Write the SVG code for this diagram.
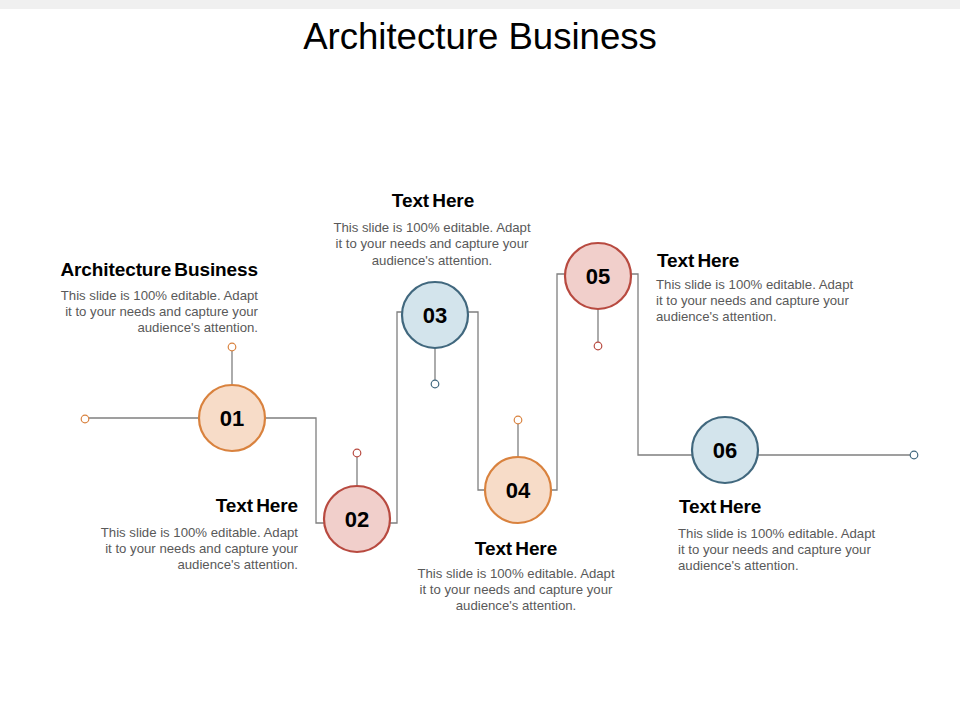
<svg xmlns="http://www.w3.org/2000/svg" width="960" height="720" viewBox="0 0 960 720">
<style>
.title{font-family:"Liberation Sans",Arial,sans-serif;font-size:36.6px;fill:#000}
.hd{font-family:"Liberation Sans",Arial,sans-serif;font-size:19px;font-weight:bold;fill:#000;letter-spacing:-0.1px;word-spacing:-2px}
.bd{font-family:"Liberation Sans",Arial,sans-serif;font-size:13.2px;fill:#595959}
.num{font-family:"Liberation Sans",Arial,sans-serif;font-size:22px;font-weight:bold;fill:#000;text-anchor:middle}
.ln{fill:none;stroke:#7f7f7f;stroke-width:1.3}
.o{fill:#f7dcc8;stroke:#d9823e;stroke-width:2.2}
.r{fill:#f1cfcb;stroke:#b84a40;stroke-width:2.2}
.b{fill:#d3e4ec;stroke:#41687e;stroke-width:2.2}
.so{fill:#fff;stroke:#d9823e;stroke-width:1.2}
.sr{fill:#fff;stroke:#b84a40;stroke-width:1.2}
.sb{fill:#fff;stroke:#41687e;stroke-width:1.2}
</style>
<rect x="0" y="0" width="960" height="9" fill="#f0f0f0"/>
<text class="title" x="480" y="49" text-anchor="middle">Architecture Business</text>
<g id="connectors">
<path class="ln" d="M89,418 H199"/>
<path class="ln" d="M266,418 H316 V523 H324"/>
<path class="ln" d="M390,523 H397 V312 H402"/>
<path class="ln" d="M468,312 H478 V490 H485"/>
<path class="ln" d="M551,490 H557 V274 H565"/>
<path class="ln" d="M631,274 H638 V455 H692"/>
<path class="ln" d="M758,455 H910"/>
<path class="ln" d="M232,351 V385"/>
<path class="ln" d="M357,457 V486"/>
<path class="ln" d="M435,348 V380"/>
<path class="ln" d="M518,424 V457"/>
<path class="ln" d="M598,309 V342"/>
<circle class="so" cx="85" cy="419" r="3.8"/>
<circle class="sb" cx="914" cy="455" r="3.8"/>
</g>
<g id="node01">
<circle class="so" cx="232" cy="347" r="3.8"/>
<circle class="o" cx="232" cy="418" r="33"/>
<text class="num" x="232" y="426">01</text>
</g>
<g id="node02">
<circle class="sr" cx="357" cy="453" r="3.8"/>
<circle class="r" cx="357" cy="519" r="33"/>
<text class="num" x="357" y="527">02</text>
</g>
<g id="node03">
<circle class="sb" cx="435" cy="384" r="3.8"/>
<circle class="b" cx="435" cy="315" r="33"/>
<text class="num" x="435" y="323">03</text>
</g>
<g id="node04">
<circle class="so" cx="518" cy="420" r="3.8"/>
<circle class="o" cx="518" cy="490" r="33"/>
<text class="num" x="518" y="498">04</text>
</g>
<g id="node05">
<circle class="sr" cx="598" cy="346" r="3.8"/>
<circle class="r" cx="598" cy="276" r="33"/>
<text class="num" x="598" y="284">05</text>
</g>
<g id="node06">
<circle class="b" cx="725" cy="450" r="33"/>
<text class="num" x="725" y="458">06</text>
</g>
<g id="text1" text-anchor="end">
<text class="hd" x="258" y="276">Architecture Business</text>
<text class="bd" x="258" y="300">This slide is 100% editable. Adapt</text>
<text class="bd" x="258" y="316">it to your needs and capture your</text>
<text class="bd" x="258" y="332">audience's attention.</text>
</g>
<g id="text2" text-anchor="end">
<text class="hd" x="298" y="512">Text Here</text>
<text class="bd" x="298" y="537">This slide is 100% editable. Adapt</text>
<text class="bd" x="298" y="553">it to your needs and capture your</text>
<text class="bd" x="298" y="569">audience's attention.</text>
</g>
<g id="text3" text-anchor="middle">
<text class="hd" x="433" y="207">Text Here</text>
<text class="bd" x="432" y="232">This slide is 100% editable. Adapt</text>
<text class="bd" x="432" y="248">it to your needs and capture your</text>
<text class="bd" x="432" y="265">audience's attention.</text>
</g>
<g id="text4" text-anchor="middle">
<text class="hd" x="516" y="555">Text Here</text>
<text class="bd" x="516" y="578">This slide is 100% editable. Adapt</text>
<text class="bd" x="516" y="594">it to your needs and capture your</text>
<text class="bd" x="516" y="610">audience's attention.</text>
</g>
<g id="text5">
<text class="hd" x="657" y="267">Text Here</text>
<text class="bd" x="656" y="289">This slide is 100% editable. Adapt</text>
<text class="bd" x="656" y="305">it to your needs and capture your</text>
<text class="bd" x="656" y="321">audience's attention.</text>
</g>
<g id="text6">
<text class="hd" x="679" y="513">Text Here</text>
<text class="bd" x="678" y="538">This slide is 100% editable. Adapt</text>
<text class="bd" x="678" y="554">it to your needs and capture your</text>
<text class="bd" x="678" y="570">audience's attention.</text>
</g>
</svg>
